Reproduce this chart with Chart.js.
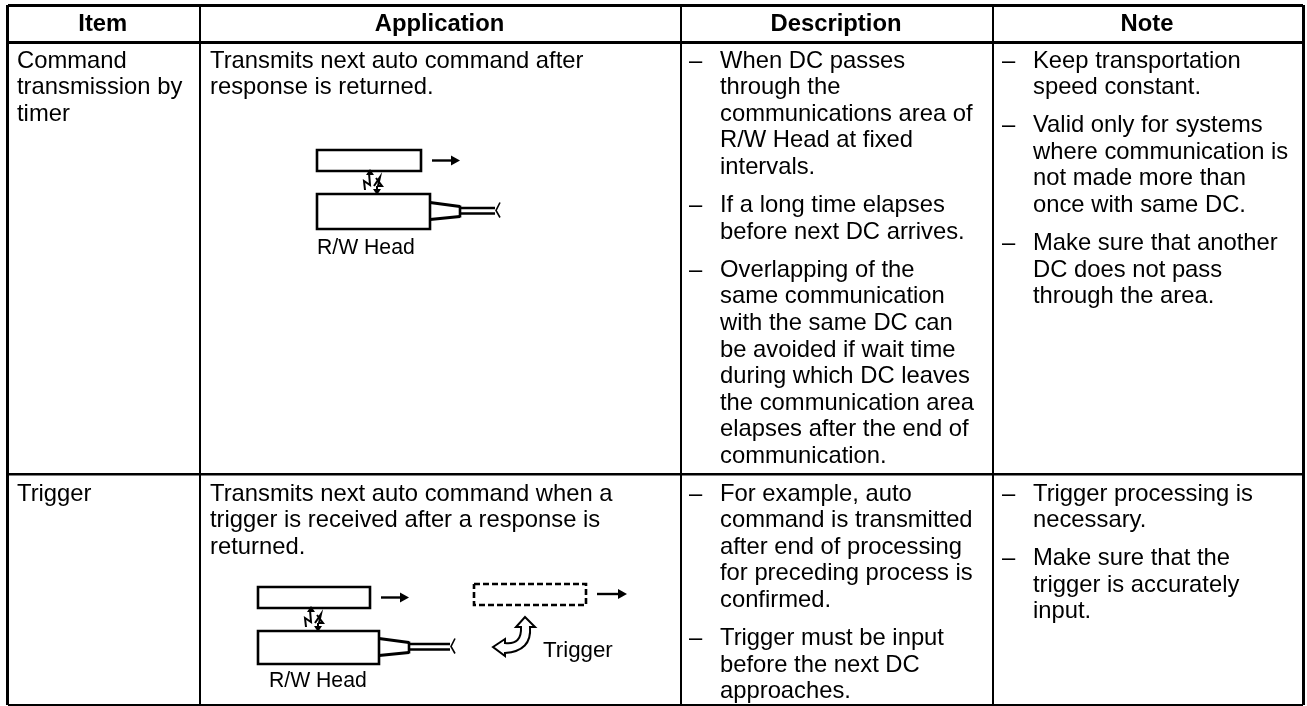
<!DOCTYPE html>
<html><head><meta charset="utf-8">
<style>html,body{margin:0;padding:0;background:#fff}#w{position:absolute;left:0;top:0;width:1307px;height:706px}</style>
<script src="https://cdn.jsdelivr.net/npm/chart.js@4"></script>
</head><body><div id="w"><canvas id="c"></canvas></div>
<script>
const headers=["Item","Application","Description","Note"];
const items=[["Command","transmission by","timer"],["Trigger"]];
const applications=[["Transmits next auto command after","response is returned."],["Transmits next auto command when a","trigger is received after a response is","returned."]];
const descriptions=[
[["When DC passes","through the","communications area of","R/W Head at fixed","intervals."],["If a long time elapses","before next DC arrives."],["Overlapping of the","same communication","with the same DC can","be avoided if wait time","during which DC leaves","the communication area","elapses after the end of","communication."]],
[["For example, auto","command is transmitted","after end of processing","for preceding process is","confirmed."],["Trigger must be input","before the next DC","approaches."]]];
const notes=[
[["Keep transportation","speed constant."],["Valid only for systems","where communication is","not made more than","once with same DC."],["Make sure that another","DC does not pass","through the area."]],
[["Trigger processing is","necessary."],["Make sure that the","trigger is accurately","input."]]];
const colEdges=[7.5,200,681,993,1303];
const rowEdges=[5,42,474.5,705];
const colWeights=[3,2,2,2,3];
const rowWeights=[3,3,2.4,2];
const headLabel="R/W Head", trigLabel="Trigger";

const FONT='"Liberation Sans"';
const tablePlugin={id:'table',afterDraw(ch){
 const c=ch.ctx,X=v=>ch.scales.x.getPixelForValue(v),Y=v=>ch.scales.y.getPixelForValue(v);
 c.save();c.fillStyle='#000';c.strokeStyle='#000';c.textBaseline='alphabetic';c.lineJoin='miter';
 const LH=26.6,GAP=11.5,SZ=23.8;
 const T=(s,x,y,sz=SZ,b=false,al='left')=>{c.font=(b?'bold ':'')+sz+'px '+FONT;c.textAlign=al;c.fillText(s,X(x),Y(y));};
 headers.forEach((h,i)=>T(h,(colEdges[i]+colEdges[i+1])/2-1,31,SZ,true,'center'));
 [0,1].forEach(r=>{
  const y0=rowEdges[r+1]+(r?26:25.5);
  items[r].forEach((s,i)=>T(s,17,y0+i*LH));
  applications[r].forEach((s,i)=>T(s,210,y0+i*LH));
  [[descriptions[r],689,720],[notes[r],1002,1033]].forEach(([paras,dx,tx])=>{
   let y=y0;
   paras.forEach(p=>{T('–',dx,y);p.forEach(s=>{T(s,tx,y);y+=LH;});y+=GAP;});
  });
 });
 const L=(pts,w=2.6,dash=[])=>{c.lineWidth=w;c.setLineDash(dash);c.beginPath();pts.forEach((p,i)=>i?c.lineTo(X(p[0]),Y(p[1])):c.moveTo(X(p[0]),Y(p[1])));c.stroke();c.setLineDash([]);};
 const tri=(a,b,d)=>{c.beginPath();c.moveTo(X(a[0]),Y(a[1]));c.lineTo(X(b[0]),Y(b[1]));c.lineTo(X(d[0]),Y(d[1]));c.closePath();c.fill();};
 const arrow=(x0,x1,y)=>{L([[x0,y],[x1-6,y]],2.4);tri([x1,y],[x1-9,y-5],[x1-9,y+5]);};
 const head=(x,y,w1,h1,w2,h2,gapY,wire)=>{
  L([[x,y],[x+w1,y],[x+w1,y+h1],[x,y+h1],[x,y],[x+w1,y]]);
  arrow(x+w1+11,x+w1+39,y+h1/2);
  const t=y+gapY;
  L([[x,t],[x+w2,t],[x+w2,t+h2],[x,t+h2],[x,t],[x+w2,t]]);
  const m=t+h2/2;
  L([[x+w2,m-9],[x+w2+30,m-5]],3.2);L([[x+w2,m+8],[x+w2+30,m+5]],3.2);
  L([[x+w2+30,m-6],[x+w2+30,m+6]],2.6);
  L([[x+w2+30,m-3.5],[wire,m-3.5]],2.4);L([[x+w2+30,m+2],[wire,m+2]],2.4);
  L([[wire+5,m-9],[wire+1,m-1],[wire+5,m+6]],1.6);
  const lx=x+56,ly=y+h1+11;
  L([[lx-8,ly+8],[lx-9,ly-1],[lx-3,ly+3],[lx-4,ly-9]],2);
  L([[lx+1,ly+4],[lx+7,ly-5],[lx+5,ly+4],[lx+9,ly+4],[lx+3,ly-4]],2);
  L([[lx+4,ly+4],[lx+4,ly+10]],2);
  tri([lx-3,ly-13],[lx-7,ly-7],[lx+1,ly-7]);
  tri([lx+4,ly+13],[lx,ly+7],[lx+8,ly+7]);
 };
 head(317,150,104,21,113,35,44,495);
 T(headLabel,317,254,21.2);
 head(258,587,112,21,121,33,44,450);
 T(headLabel,269,687,21.2);
 L([[474,584],[586,584],[586,605],[474,605],[474,584]],2.6,[6,3]);
 arrow(597,627,594);
 const P=(x,y)=>[X(x),Y(y)];
 c.lineWidth=2;c.beginPath();
 c.moveTo(...P(525,617));c.lineTo(...P(535,627));c.lineTo(...P(530,627));
 c.quadraticCurveTo(...P(532,651),...P(505,653));
 c.lineTo(...P(505,656));c.lineTo(...P(493,647));c.lineTo(...P(505,639));c.lineTo(...P(505,643));
 c.quadraticCurveTo(...P(522,645),...P(521,627));
 c.lineTo(...P(516,627));c.closePath();c.stroke();
 T(trigLabel,543,657,22.3);
 c.restore();
}};
new Chart(document.getElementById('c'),{type:'scatter',plugins:[tablePlugin],
 data:{datasets:[{data:[],showLine:false}]},
 options:{responsive:true,maintainAspectRatio:false,animation:false,
  layout:{padding:{left:colEdges[0],right:1307-colEdges[4],top:rowEdges[0],bottom:706-rowEdges[3]}},
  plugins:{legend:{display:false},tooltip:{enabled:false}},
  scales:{
   x:{type:'linear',min:colEdges[0],max:colEdges[4],afterBuildTicks:s=>{s.ticks=colEdges.map(v=>({value:v}));},ticks:{display:false},border:{display:false},grid:{color:'#000',lineWidth:k=>colWeights[k.index]??2,drawTicks:false}},
   y:{type:'linear',min:rowEdges[0],max:rowEdges[3],reverse:true,afterBuildTicks:s=>{s.ticks=rowEdges.map(v=>({value:v}));},ticks:{display:false},border:{display:false},grid:{color:'#000',lineWidth:k=>rowWeights[k.index]??2,drawTicks:false}}
  }}});
</script></body></html>
